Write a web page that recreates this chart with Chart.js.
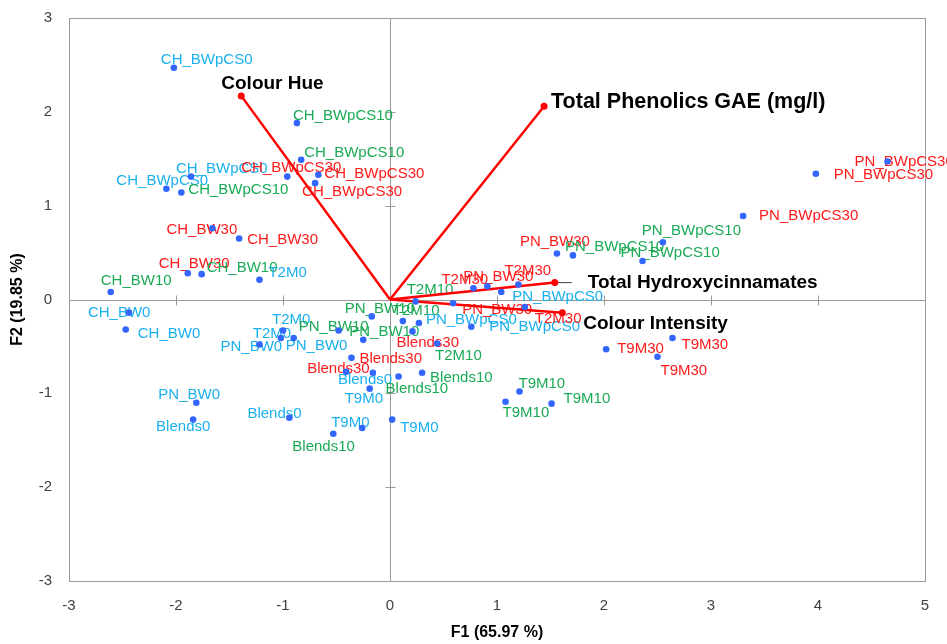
<!DOCTYPE html>
<html>
<head>
<meta charset="utf-8">
<script src="https://cdn.jsdelivr.net/npm/chart.js@4.4.0/dist/chart.umd.min.js"></script>
<style>
  html, body { margin: 0; padding: 0; background: #fff; }
</style>
</head>
<body>
<canvas id="biplot" width="947" height="644"></canvas>
<script>
// ---- data ----
const obsNames = [
  'CH_BWpCS0', 'CH_BWpCS0', 'CH_BWpCS0',
  'CH_BWpCS10', 'CH_BWpCS10', 'CH_BWpCS10',
  'CH_BWpCS30', 'CH_BWpCS30', 'CH_BWpCS30',
  'CH_BW30', 'CH_BW30', 'CH_BW30',
  'CH_BW10', 'CH_BW10',
  'CH_BW0', 'CH_BW0',
  'T2M0', 'T2M0', 'T2M0',
  'PN_BW0', 'PN_BW0', 'PN_BW0',
  'PN_BW10', 'PN_BW10', 'PN_BW10',
  'Blends30', 'Blends30', 'Blends30',
  'Blends0', 'Blends0', 'Blends0',
  'Blends10', 'Blends10', 'Blends10',
  'T9M0', 'T9M0', 'T9M0',
  'T2M10', 'T2M10', 'T2M10',
  'PN_BWpCS0', 'PN_BWpCS0', 'PN_BWpCS0',
  'PN_BW30', 'PN_BW30', 'PN_BW30',
  'T2M30', 'T2M30', 'T2M30',
  'PN_BWpCS10', 'PN_BWpCS10', 'PN_BWpCS10',
  'PN_BWpCS30', 'PN_BWpCS30', 'PN_BWpCS30',
  'T9M30', 'T9M30', 'T9M30',
  'T9M10', 'T9M10', 'T9M10'
];
const obsF1 = [
  -2.02, -1.86, -2.09,
  -0.87, -0.83, -1.95,
  -0.96, -0.67, -0.70,
  -1.66, -1.41, -1.89,
  -1.76, -2.61,
  -2.44, -2.47,
  -1.22, -1.00, -1.02,
  -1.22, -0.90, -1.81,
  -0.48, -0.17, -0.25,
  -0.36, -0.41, 0.21,
  -0.16, -0.94, -1.84,
  0.08, 0.30, -0.53,
  -0.19, -0.26, 0.02,
  0.24, 0.12, 0.44,
  1.04, 0.27, 0.76,
  1.56, 0.91, 0.59,
  0.78, 1.20, 1.26,
  1.71, 2.36, 2.55,
  3.30, 3.98, 4.65,
  2.02, 2.64, 2.50,
  1.21, 1.08, 1.51
];
const obsF2 = [
  2.47, 1.31, 1.18,
  1.88, 1.49, 1.14,
  1.31, 1.33, 1.24,
  0.76, 0.65, 0.28,
  0.27, 0.08,
  -0.14, -0.32,
  0.21, -0.33, -0.41,
  -0.48, -0.41, -1.10,
  -0.33, -0.18, -0.43,
  -0.62, -0.77, -0.34,
  -0.78, -1.26, -1.28,
  -0.82, -0.78, -1.43,
  -0.95, -1.37, -1.28,
  -0.02, -0.23, -0.47,
  0.08, -0.25, -0.29,
  0.49, 0.14, -0.04,
  0.12, 0.16, -0.08,
  0.47, 0.41, 0.61,
  0.89, 1.34, 1.47,
  -0.53, -0.41, -0.61,
  -0.98, -1.09, -1.11
];

const varNames = ['Colour Hue', 'Total Phenolics GAE (mg/l)', 'Total Hydroxycinnamates', 'Colour Intensity'];
const varF1 = [-1.39, 1.44, 1.54, 1.61];
const varF2 = [2.17, 2.06, 0.18, -0.14];

const xTicks = [-3, -2, -1, 0, 1, 2, 3, 4, 5];
const yTicks = [-3, -2, -1, 0, 1, 2, 3];

// ---- label layout (pixel nudges from each point to its label's left edge) ----
const obsNudge = [
  [-13, -8], [-15, -8], [-50, -8],
  [-4, -7], [3, -7], [7, -3],
  [-46, -9], [6, -1], [-13, 9],
  [-46, 2], [8, 1], [-29, -9],
  [5, -6], [-10, -11],
  [-41, 0], [12, 4],
  [9, -7], [-11, -11], [-28, -4],
  [-39, 2], [-8, 8], [-38, -8],
  [-40, -4], [-27, -8], [-14, -8],
  [8, 1], [-39, -3], [-16, 11],
  [-35, 7], [-42, -4], [-37, 7],
  [-13, 12], [8, 5], [-41, 13],
  [-25, 10], [-31, -5], [8, 8],
  [-9, -12], [-10, -10], [-2, 12],
  [11, 5], [7, -3], [18, 0],
  [-37, -12], [-24, -10], [9, 7],
  [-32, -8], [-14, -14], [10, 12],
  [-8, -9], [-22, -8], [-21, -11],
  [16, 0], [18, 1], [-33, 0],
  [11, 0], [9, 7], [3, 14],
  [-1, -8], [-3, 11], [12, -5]
];
const varNudge = [[-20, -12], [7, -4], [33, 0], [21, 11]];
const varFontSize = [19, 21.5, 19, 19];

const CYAN = '#1ab0ee';
const GREEN = '#1aaa55';
const RED = '#ff1a1a';
const DOT = '#3366ff';
const AXIS_GREY = '#9a9a9a';

function labelColour(name) {
  if (/30$/.test(name)) return RED;
  if (/10$/.test(name)) return GREEN;
  return CYAN;
}

const obsPoints = obsF1.map((x, i) => ({ x, y: obsF2[i] }));

const vectorSets = varNames.map((name, i) => ({
  label: name,
  data: [{ x: 0, y: 0 }, { x: varF1[i], y: varF2[i] }],
  showLine: true,
  borderColor: '#ff0000',
  borderWidth: 2.5,
  pointRadius: [0, 3.5],
  pointBackgroundColor: '#ff0000',
  pointBorderWidth: 0,
  order: 2
}));

// plot frame, centre axes with cross ticks, and all text labels
const biplotDecor = {
  id: 'biplotDecor',
  beforeDatasetsDraw(chart) {
    const { ctx, chartArea: a, scales: { x, y } } = chart;
    const x0 = Math.round(x.getPixelForValue(0)) + 0.5;
    const y0 = Math.round(y.getPixelForValue(0)) + 0.5;
    ctx.save();
    ctx.strokeStyle = AXIS_GREY;
    ctx.lineWidth = 1;
    ctx.strokeRect(Math.round(a.left) + 0.5, Math.round(a.top) + 0.5,
                   Math.round(a.right - a.left), Math.round(a.bottom - a.top));
    ctx.beginPath();
    ctx.moveTo(a.left, y0); ctx.lineTo(a.right, y0);
    ctx.moveTo(x0, a.top); ctx.lineTo(x0, a.bottom);
    xTicks.slice(1, -1).forEach(v => {
      const px = Math.round(x.getPixelForValue(v)) + 0.5;
      ctx.moveTo(px, y0 - 5); ctx.lineTo(px, y0 + 5);
    });
    yTicks.slice(1, -1).forEach(v => {
      const py = Math.round(y.getPixelForValue(v)) + 0.5;
      ctx.moveTo(x0 - 5, py); ctx.lineTo(x0 + 5, py);
    });
    ctx.stroke();

    // observation labels
    ctx.font = '15px "Liberation Sans", Arial, sans-serif';
    ctx.textAlign = 'left';
    ctx.textBaseline = 'middle';
    obsNames.forEach((name, i) => {
      const px = x.getPixelForValue(obsF1[i]) + obsNudge[i][0];
      const py = y.getPixelForValue(obsF2[i]) + obsNudge[i][1];
      ctx.fillStyle = labelColour(name);
      ctx.fillText(name, px, py);
    });

    // variable labels
    ctx.fillStyle = '#000';
    varNames.forEach((name, i) => {
      const ex = x.getPixelForValue(varF1[i]);
      const ey = y.getPixelForValue(varF2[i]);
      ctx.font = 'bold ' + varFontSize[i] + 'px "Liberation Sans", Arial, sans-serif';
      ctx.fillText(name, ex + varNudge[i][0], ey + varNudge[i][1]);
      if (varNudge[i][0] > 25) {
        ctx.strokeStyle = '#404040';
        ctx.beginPath();
        ctx.moveTo(ex, ey); ctx.lineTo(ex + 17, ey);
        ctx.stroke();
      }
    });
    ctx.restore();
  }
};

new Chart(document.getElementById('biplot'), {
  type: 'scatter',
  data: {
    datasets: [
      {
        label: 'Observations',
        data: obsPoints,
        pointRadius: 3.3,
        pointBackgroundColor: DOT,
        pointBorderWidth: 0,
        order: 1
      },
      ...vectorSets
    ]
  },
  options: {
    responsive: false,
    animation: false,
    layout: { padding: { top: 18, right: 22, left: 0, bottom: 0 } },
    plugins: { legend: { display: false }, tooltip: { enabled: false } },
    scales: {
      x: {
        type: 'linear',
        min: -3, max: 5,
        afterBuildTicks: s => { s.ticks = xTicks.map(v => ({ value: v })); },
        afterFit: s => { s.height = 63; s.paddingLeft = 0; s.paddingRight = 0; },
        grid: { display: false, drawTicks: false },
        border: { display: false },
        ticks: { padding: 16, color: '#404040', font: { size: 15, family: '"Liberation Sans", Arial' } },
        title: {
          display: true, text: 'F1 (65.97 %)', color: '#000',
          font: { size: 16, weight: 'bold', family: '"Liberation Sans", Arial' },
          padding: { top: 0, bottom: 2 }
        }
      },
      y: {
        type: 'linear',
        min: -3, max: 3,
        afterBuildTicks: s => { s.ticks = yTicks.map(v => ({ value: v })); },
        afterFit: s => { s.width = 69; s.paddingTop = 0; s.paddingBottom = 0; },
        grid: { display: false, drawTicks: false },
        border: { display: false },
        ticks: { padding: 17, color: '#404040', font: { size: 15, family: '"Liberation Sans", Arial' } },
        title: {
          display: true, text: 'F2 (19.85 %)', color: '#000',
          font: { size: 16, weight: 'bold', family: '"Liberation Sans", Arial' },
          padding: { top: 8, bottom: 0 }
        }
      }
    }
  },
  plugins: [biplotDecor]
});
</script>
</body>
</html>
